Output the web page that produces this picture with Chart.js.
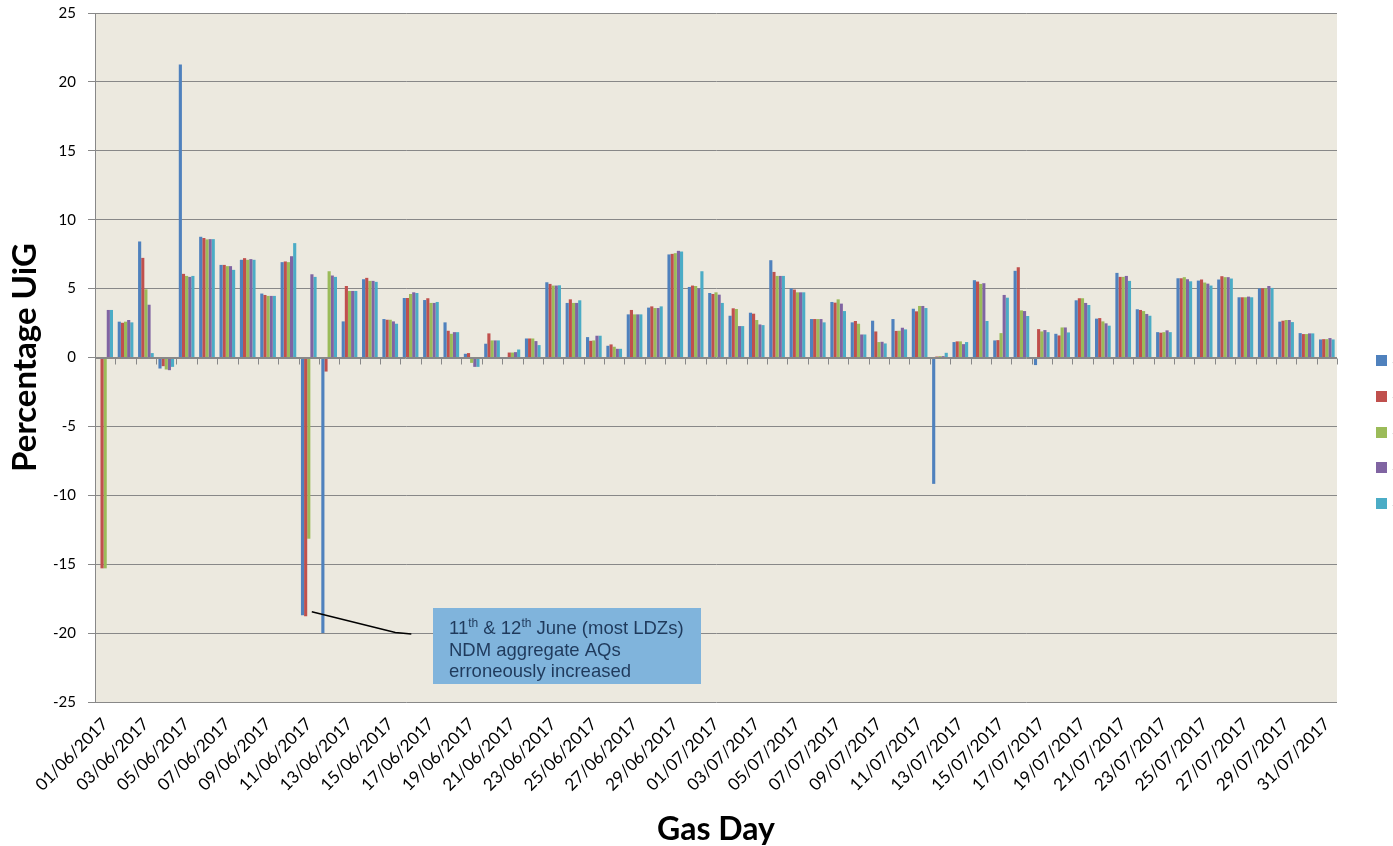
<!DOCTYPE html>
<html>
<head>
<meta charset="utf-8">
<script src="https://cdn.jsdelivr.net/npm/chart.js@4.4.1/dist/chart.umd.min.js"></script>
<style>
  html, body { margin: 0; padding: 0; background: #ffffff; overflow: hidden; }
  canvas { display: block; }
</style>
</head>
<body>
<canvas id="uig" width="1393" height="846"></canvas>
<script>
// Gas days, June–July 2017
const gasDays = [
  '01/06/2017','02/06/2017','03/06/2017','04/06/2017','05/06/2017','06/06/2017','07/06/2017','08/06/2017','09/06/2017','10/06/2017',
  '11/06/2017','12/06/2017','13/06/2017','14/06/2017','15/06/2017','16/06/2017','17/06/2017','18/06/2017','19/06/2017','20/06/2017',
  '21/06/2017','22/06/2017','23/06/2017','24/06/2017','25/06/2017','26/06/2017','27/06/2017','28/06/2017','29/06/2017','30/06/2017',
  '01/07/2017','02/07/2017','03/07/2017','04/07/2017','05/07/2017','06/07/2017','07/07/2017','08/07/2017','09/07/2017','10/07/2017',
  '11/07/2017','12/07/2017','13/07/2017','14/07/2017','15/07/2017','16/07/2017','17/07/2017','18/07/2017','19/07/2017','20/07/2017',
  '21/07/2017','22/07/2017','23/07/2017','24/07/2017','25/07/2017','26/07/2017','27/07/2017','28/07/2017','29/07/2017','30/07/2017',
  '31/07/2017'
];

const seriesNames = ['Series 1', 'Series 2', 'Series 3', 'Series 4', 'Series 5'];

// Percentage UiG per gas day, one array per series
const uig1 = [
  null, 2.60, 8.42, -0.80, 21.27, 8.76, 6.72, 7.09, 4.64, 6.92,
  -18.70, -20.00, 2.62, 5.68, 2.79, 4.32, 4.17, 2.55, 0.27, 1.00,
  null, 1.38, 5.46, 3.96, 1.48, 0.85, 3.13, 3.62, 7.48, 5.12,
  4.68, 3.03, 3.25, 7.06, 5.02, 2.79, 4.03, 2.55, 2.67, 2.79,
  3.54, -9.17, 1.12, 5.61, 1.24, 6.29, -0.55, 1.72, 4.15, 2.82,
  6.14, 3.50, 1.84, 5.75, 5.58, 5.66, 4.37, 5.02, 2.60, 1.77,
  1.31
];
const uig2 = [
  -15.30, 2.52, 7.23, -0.63, 6.07, 8.67, 6.72, 7.21, 4.54, 6.97,
  -18.78, -1.02, 5.19, 5.78, 2.74, 4.32, 4.30, 1.94, 0.32, 1.75,
  0.36, 1.38, 5.34, 4.22, 1.21, 0.95, 3.45, 3.71, 7.52, 5.22,
  4.61, 3.57, 3.18, 6.21, 4.93, 2.79, 3.98, 2.65, 1.89, 1.93,
  3.35, 0.07, 1.17, 5.51, 1.26, 6.55, 2.06, 1.60, 4.30, 2.86,
  5.85, 3.45, 1.80, 5.75, 5.66, 5.90, 4.37, 5.02, 2.67, 1.70,
  1.33
];
const uig3 = [
  -15.30, 2.60, 4.95, -0.87, 5.92, 8.57, 6.63, 7.09, 4.47, 6.92,
  -13.15, 6.26, 4.83, 5.56, 2.74, 4.61, 3.96, 1.72, -0.39, 1.24,
  0.36, 1.38, 5.22, 3.96, 1.24, 0.78, 3.13, 3.59, 7.57, 5.19,
  4.73, 3.52, 2.72, 5.92, 4.73, 2.79, 4.22, 2.45, 1.12, 1.94,
  3.74, 0.10, 1.17, 5.34, 1.77, 3.42, 1.89, 2.18, 4.30, 2.62,
  5.85, 3.37, 1.84, 5.83, 5.44, 5.83, 4.37, 5.02, 2.72, 1.70,
  1.33
];
const uig4 = [
  3.45, 2.72, 3.83, -0.92, 5.85, 8.59, 6.63, 7.14, 4.47, 7.35,
  6.04, 5.95, 4.83, 5.56, 2.62, 4.73, 3.96, 1.84, -0.68, 1.24,
  0.39, 1.19, 5.22, 3.96, 1.58, 0.63, 3.13, 3.59, 7.74, 5.02,
  4.56, 2.28, 2.40, 5.92, 4.73, 2.79, 3.91, 1.67, 1.14, 2.16,
  3.74, 0.10, 0.97, 5.39, 4.54, 3.37, 1.99, 2.18, 3.96, 2.48,
  5.92, 3.16, 1.97, 5.68, 5.36, 5.83, 4.42, 5.19, 2.72, 1.75,
  1.41
];
const uig5 = [
  3.45, 2.55, 0.32, -0.68, 5.92, 8.59, 6.36, 7.09, 4.47, 8.30,
  5.85, 5.85, 4.83, 5.49, 2.45, 4.68, 4.03, 1.84, -0.68, 1.24,
  0.58, 0.90, 5.24, 4.15, 1.58, 0.63, 3.13, 3.71, 7.69, 6.26,
  3.96, 2.28, 2.35, 5.92, 4.73, 2.55, 3.37, 1.67, 1.02, 2.04,
  3.59, 0.34, 1.12, 2.65, 4.34, 3.01, 1.84, 1.82, 3.81, 2.31,
  5.56, 3.03, 1.84, 5.53, 5.22, 5.73, 4.37, 5.05, 2.57, 1.75,
  1.31
];

const yMin = -25, yMax = 25, yStep = 5;

const seriesColors = ['#4F81BD', '#C0504D', '#9BBB59', '#8064A2', '#4BACC6'];
const plotFill = '#ECE9DF';
const gridGrey = '#888888';

const noteLines = ['NDM aggregate AQs', 'erroneously increased'];

// Plot area background
const plotBackground = {
  id: 'plotBackground',
  beforeDraw(chart) {
    const { ctx, chartArea: a } = chart;
    ctx.save();
    ctx.fillStyle = '#ffffff';
    ctx.fillRect(0, 0, chart.width, chart.height);
    ctx.fillStyle = plotFill;
    ctx.fillRect(a.left, a.top, a.right - a.left, a.bottom - a.top);
    ctx.restore();
  }
};

// Category tick marks hanging below the zero line
const zeroAxisTicks = {
  id: 'zeroAxisTicks',
  afterDatasetsDraw(chart) {
    const { ctx } = chart;
    const xs = chart.scales.x, ys = chart.scales.y;
    const y0 = Math.round(ys.getPixelForValue(0)) + 0.5;
    const half = (xs.getPixelForValue(1) - xs.getPixelForValue(0)) / 2;
    ctx.save();
    ctx.strokeStyle = gridGrey;
    ctx.lineWidth = 1;
    ctx.beginPath();
    ctx.moveTo(chart.chartArea.left, y0);
    ctx.lineTo(chart.chartArea.right, y0);
    for (let i = 0; i <= gasDays.length; i++) {
      const px = Math.round(xs.getPixelForValue(i) - half) + 0.5;
      ctx.moveTo(px, y0);
      ctx.lineTo(px, y0 + 6);
    }
    ctx.stroke();
    ctx.restore();
  }
};

// Legend swatches on the right edge
const edgeLegend = {
  id: 'edgeLegend',
  afterDraw(chart) {
    const { ctx } = chart;
    ctx.save();
    ctx.font = '15px "Liberation Sans", Arial, sans-serif';
    ctx.textBaseline = 'middle';
    seriesNames.forEach((name, i) => {
      const cy = 360.5 + i * 35.8;
      ctx.fillStyle = seriesColors[i];
      ctx.fillRect(1376, Math.round(cy - 5.5), 11, 11);
      ctx.fillStyle = '#000';
      ctx.fillText(name, 1392, cy);
    });
    ctx.restore();
  }
};

// Callout box explaining the 11th/12th June dip
const calloutNote = {
  id: 'calloutNote',
  afterDraw(chart) {
    const { ctx } = chart;
    const xs = chart.scales.x, ys = chart.scales.y;
    const step = xs.getPixelForValue(1) - xs.getPixelForValue(0);

    // leader line from the 11/06 bars to the box
    const sx = xs.getPixelForValue(10) + 3;
    const sy = ys.getPixelForValue(-18.45);
    const mx = xs.getPixelForValue(14) + step * 0.25;
    const my = ys.getPixelForValue(-19.95);
    const ex = mx + 16, ey = my + 1.5;
    ctx.save();
    ctx.strokeStyle = '#000';
    ctx.lineWidth = 1.5;
    ctx.beginPath();
    ctx.moveTo(sx, sy);
    ctx.lineTo(mx, my);
    ctx.lineTo(ex, ey);
    ctx.stroke();

    // box
    const bx = 433, by = 608, bw = 268, bh = 76;
    ctx.fillStyle = '#80B4DC';
    ctx.fillRect(bx, by, bw, bh);

    // text
    const tx = 449;
    const base1 = 634, lh = 21.7;
    ctx.fillStyle = '#1F3A5C';
    ctx.textBaseline = 'alphabetic';
    const big = '18.5px "Liberation Sans", Arial, sans-serif';
    const sup = '12px "Liberation Sans", Arial, sans-serif';
    let x = tx;
    const runs = [['11', big], ['th', sup], [' & 12', big], ['th', sup], [' June (most LDZs)', big]];
    runs.forEach(([t, f]) => {
      ctx.font = f;
      ctx.fillText(t, x, f === sup ? base1 - 7 : base1);
      x += ctx.measureText(t).width;
    });
    ctx.font = big;
    noteLines.forEach((t, i) => ctx.fillText(t, tx, base1 + lh * (i + 1)));
    ctx.restore();
  }
};

const mkSet = (label, data, color) => ({
  label, data,
  backgroundColor: color,
  borderWidth: 0,
  categoryPercentage: 0.77,
  barPercentage: 1.0
});

new Chart(document.getElementById('uig'), {
  type: 'bar',
  data: {
    labels: gasDays,
    datasets: [
      mkSet(seriesNames[0], uig1, seriesColors[0]),
      mkSet(seriesNames[1], uig2, seriesColors[1]),
      mkSet(seriesNames[2], uig3, seriesColors[2]),
      mkSet(seriesNames[3], uig4, seriesColors[3]),
      mkSet(seriesNames[4], uig5, seriesColors[4])
    ]
  },
  options: {
    responsive: false,
    animation: false,
    events: [],
    layout: { padding: { top: 13, right: 56, left: 0, bottom: 0 } },
    plugins: {
      legend: { display: false },
      tooltip: { enabled: false }
    },
    scales: {
      x: {
        offset: true,
        grid: { display: false, drawTicks: false },
        border: { display: false },
        ticks: {
          autoSkip: false,
          minRotation: 45,
          maxRotation: 45,
          padding: 12,
          color: '#000',
          font: { family: 'Lato, "Open Sans", sans-serif', size: 17 },
          callback: (v, i) => (i % 2 === 0 ? gasDays[i] : '')
        },
        title: {
          display: true,
          text: 'Gas Day',
          color: '#000',
          font: { family: 'Lato, "Open Sans", sans-serif', size: 32, weight: 'bold', lineHeight: 1.05 },
          padding: { top: 0, bottom: 0 }
        },
        afterFit: (s) => { s.height = 144; s.paddingLeft = 0; s.paddingRight = 0; }
      },
      y: {
        min: yMin,
        max: yMax,
        ticks: {
          stepSize: yStep,
          padding: 12,
          color: '#000',
          font: { family: 'Lato, "Open Sans", sans-serif', size: 15 }
        },
        grid: { color: gridGrey, lineWidth: 1, tickLength: 7, drawTicks: true },
        border: { display: true, color: gridGrey, width: 1 },
        title: {
          display: true,
          text: 'Percentage UiG',
          color: '#000',
          font: { family: 'Lato, "Open Sans", sans-serif', size: 33, weight: 'bold' },
          padding: { top: 6, bottom: 0 }
        },
        afterFit: (s) => { s.width = 95; s.paddingTop = 0; s.paddingBottom = 0; }
      }
    }
  },
  plugins: [plotBackground, zeroAxisTicks, edgeLegend, calloutNote]
});
</script>
</body>
</html>
